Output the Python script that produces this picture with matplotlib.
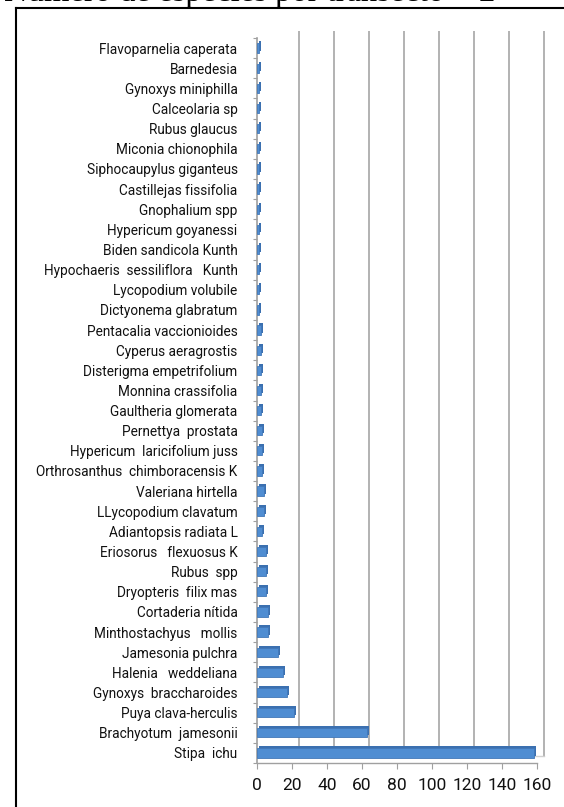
import matplotlib
matplotlib.use("Agg")
import matplotlib.pyplot as plt
import matplotlib.transforms as mtransforms
from matplotlib.lines import Line2D

# ---- data (top to bottom as shown in the chart) ----
species = [
    "Flavoparnelia caperata", "Barnedesia", "Gynoxys miniphilla", "Calceolaria sp",
    "Rubus glaucus", "Miconia chionophila", "Siphocaupylus giganteus",
    "Castillejas fissifolia", "Gnophalium spp", "Hypericum goyanessi",
    "Biden sandicola Kunth", "Hypochaeris  sessiliflora   Kunth", "Lycopodium volubile",
    "Dictyonema glabratum", "Pentacalia vaccionioides", "Cyperus aeragrostis",
    "Disterigma empetrifolium", "Monnina crassifolia", "Gaultheria glomerata",
    "Pernettya  prostata", "Hypericum  laricifolium juss",
    "Orthrosanthus  chimboracensis K", "Valeriana hirtella", "LLycopodium clavatum",
    "Adiantopsis radiata L", "Eriosorus   flexuosus K", "Rubus  spp",
    "Dryopteris  filix mas", "Cortaderia nítida", "Minthostachyus   mollis",
    "Jamesonia pulchra", "Halenia   weddeliana", "Gynoxys  braccharoides",
    "Puya clava-herculis", "Brachyotum  jamesonii", "Stipa  ichu",
]
counts = [1, 1, 1, 1, 1, 1, 1, 1, 1, 1, 1, 1, 1, 1,
          2, 2, 2, 2, 2, 3, 3, 3, 4, 4, 3, 5, 5, 5, 6, 6,
          12, 15, 17, 21, 63, 158]
xticks = [0, 20, 40, 60, 80, 100, 120, 140, 160]
title = "Número de especies por transecto = 2"

W, H = 564, 807
fig = plt.figure(figsize=(W / 100, H / 100), dpi=100)
fig.patch.set_facecolor("white")

left_px, right_px, top_px, bot_px = 257, 537, 38, 763
ax = fig.add_axes([left_px / W, (H - bot_px) / H,
                   (right_px - left_px) / W, (bot_px - top_px) / H])

n = len(species)
ypos = list(range(n - 1, -1, -1))

# back-wall gridlines (shifted to mimic the 3-D look)
off = mtransforms.ScaledTranslation(0.065, 0.07, fig.dpi_scale_trans)
gtrans = ax.get_xaxis_transform() + off
for v in xticks[1:]:
    ax.plot([v, v], [0, 1], color="#b2b2b2", lw=1.4, transform=gtrans,
            zorder=1, solid_capstyle="butt", clip_on=False)
# back edge of the floor
ax.plot([0, xticks[-1]], [0, 0], color="#d0d0d0", lw=1.0, transform=gtrans,
        zorder=1, clip_on=False)

# bars: depth face then front face
dtrans = ax.transData + mtransforms.ScaledTranslation(0.02, 0.02, fig.dpi_scale_trans)
ax.barh(ypos, counts, height=0.46, color="#3b70b0", edgecolor="none",
        transform=dtrans, zorder=2)
ax.barh(ypos, counts, height=0.46, color="#4f8dd2", edgecolor="#4278b8",
        linewidth=0.6, zorder=3)

ax.set_xlim(0, 160)
ax.set_ylim(-0.5, n - 0.5)
ax.set_xticks(xticks)
ax.set_xticklabels([str(v) for v in xticks], fontsize=12.5, family="Roboto",
                   color="#111111")
ax.set_yticks(ypos)
ax.set_yticklabels(species, fontsize=9.8, family="Roboto", color="#111111")
ax.set_yticks([k + 0.5 for k in range(-1, n)], minor=True)
ax.tick_params(axis="y", which="major", length=0, pad=14)
ax.tick_params(axis="y", which="minor", length=3, color="#a0a0a0", width=0.8)
ax.tick_params(axis="x", which="major", length=4, color="#a0a0a0", width=0.8,
               pad=7)

for s in ["top", "right"]:
    ax.spines[s].set_visible(False)
ax.spines["left"].set_color("#a0a0a0")
ax.spines["left"].set_linewidth(1.2)
ax.spines["bottom"].set_color("#a0a0a0")
ax.spines["bottom"].set_linewidth(1.0)
ax.set_facecolor("none")

# outer frame (cropped)
fx = 16 / W
fy = 1 - 8 / H
fig.add_artist(Line2D([fx, fx], [0, fy], color="black", lw=1.5,
                      transform=fig.transFigure))
fig.add_artist(Line2D([fx, 1], [fy, fy], color="black", lw=1.5,
                      transform=fig.transFigure))

# cropped title
fig.text(4 / W, 1 - 1 / H, title, family="Liberation Serif", fontsize=23.5,
         va="baseline", ha="left", color="black")

fig.savefig("out.png", dpi=100)
